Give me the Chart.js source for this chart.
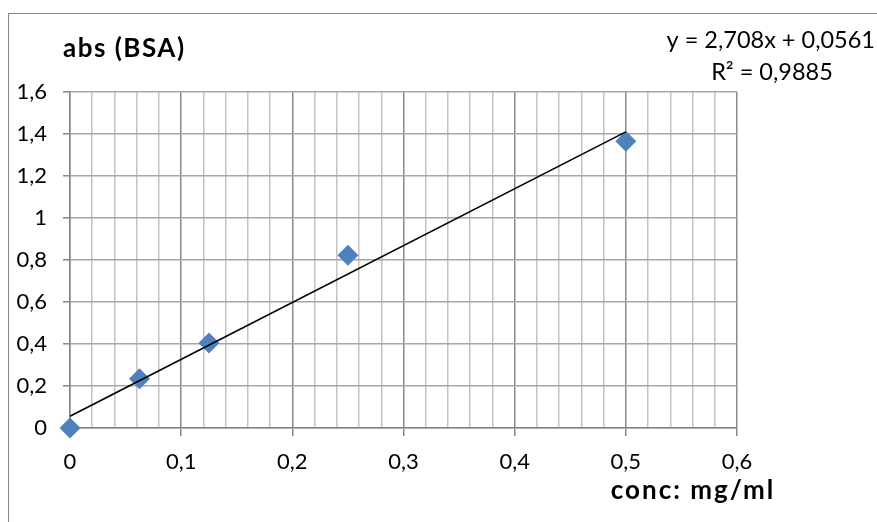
<!DOCTYPE html>
<html>
<head>
<meta charset="utf-8">
<script src="https://cdn.jsdelivr.net/npm/chart.js@4"></script>
<style>
  html, body { margin: 0; padding: 0; background: #fff; }
  #wrap { width: 877px; height: 522px; }
</style>
</head>
<body>
<div id="wrap"><canvas id="chart" width="877" height="522"></canvas></div>
<script>
// dados
const concValues = [0, 0.0625, 0.125, 0.25, 0.5];
const absValues = [0, 0.235, 0.405, 0.823, 1.365];
const xTickLabels = ['0', '0,1', '0,2', '0,3', '0,4', '0,5', '0,6'];
const yTickLabels = ['0', '0,2', '0,4', '0,6', '0,8', '1', '1,2', '1,4', '1,6'];
const trendSlope = 2.708;
const trendIntercept = 0.0561;
const trendRange = [0, 0.5];

const FONT = 'Lato, "Open Sans", sans-serif';

const points = concValues.map((x, i) => ({ x: x, y: absValues[i] }));
const trend = trendRange.map(x => ({ x: x, y: trendSlope * x + trendIntercept }));

// desenha moldura e textos extras
const extras = {
    id: 'extras',
    beforeDraw(chart) {
        const ctx = chart.ctx;
        ctx.save();
        ctx.fillStyle = '#fff';
        ctx.fillRect(0, 0, chart.width, chart.height);
        ctx.strokeStyle = '#868686';
        ctx.lineWidth = 1;
        ctx.strokeRect(8.5, 13.5, 1000, 1000);
        ctx.restore();
    },
    afterDraw(chart) {
        const ctx = chart.ctx;
        ctx.save();
        ctx.fillStyle = '#000';
        ctx.textBaseline = 'middle';
        ctx.font = 'bold 26px ' + FONT;
        ctx.letterSpacing = '1.5px';
        ctx.textAlign = 'left';
        ctx.fillText('abs (BSA)', 63, 49);
        ctx.letterSpacing = '0px';
        ctx.font = '23.5px ' + FONT;
        ctx.textAlign = 'right';
        ctx.fillText('y = 2,708x + 0,0561', 875, 40);
        ctx.textAlign = 'center';
        ctx.fillText('R² = 0,9885', 772, 72);
        ctx.font = 'bold 26px ' + FONT;
        ctx.letterSpacing = '2px';
        ctx.fillText('conc: mg/ml', 693, 491);
        ctx.restore();
    }
};

function isMajorX(v) {
    return Math.round(v * 100) % 10 === 0;
}

new Chart(document.getElementById('chart'), {
    type: 'scatter',
    data: {
        datasets: [{
            label: 'abs',
            data: points,
            pointStyle: 'rectRot',
            pointRadius: 10.5,
            pointHoverRadius: 10.5,
            backgroundColor: '#4F81BD',
            borderColor: '#4F81BD',
            borderWidth: 0,
            showLine: false,
            clip: false,
            order: 2
        }, {
            label: 'trend',
            data: trend,
            showLine: true,
            borderColor: '#000',
            borderWidth: 1.6,
            pointRadius: 0,
            fill: false,
            order: 1
        }]
    },
    options: {
        responsive: false,
        animation: false,
        layout: { padding: { left: 0, top: 92, right: 140, bottom: 0 } },
        plugins: {
            legend: { display: false },
            tooltip: { enabled: false }
        },
        scales: {
            x: {
                type: 'linear',
                min: 0,
                max: 0.6,
                afterFit: s => { s.height = 94; },
                ticks: {
                    stepSize: 0.02,
                    autoSkip: false,
                    maxRotation: 0,
                    padding: 13,
                    color: '#000',
                    font: { family: FONT, size: 22 },
                    callback: v => isMajorX(v) ? xTickLabels[Math.round(v * 10)] : ''
                },
                grid: {
                    color: c => isMajorX(c.tick.value) ? '#8A8A8A' : '#C4C4C4',
                    tickColor: c => isMajorX(c.tick.value) ? '#868686' : 'rgba(0,0,0,0)',
                    tickLength: 8,
                    lineWidth: 1.5
                },
                border: { color: '#868686', width: 1.5 }
            },
            y: {
                type: 'linear',
                min: 0,
                max: 1.6,
                afterFit: s => { s.width = 70; },
                ticks: {
                    stepSize: 0.2,
                    padding: 16,
                    color: '#000',
                    font: { family: FONT, size: 22 },
                    callback: v => yTickLabels[Math.round(v * 5)]
                },
                grid: {
                    color: '#A6A6A6',
                    tickColor: '#868686',
                    tickLength: 7,
                    lineWidth: 1.5
                },
                border: { color: '#868686', width: 1.5 }
            }
        }
    },
    plugins: [extras]
});
</script>
</body>
</html>
